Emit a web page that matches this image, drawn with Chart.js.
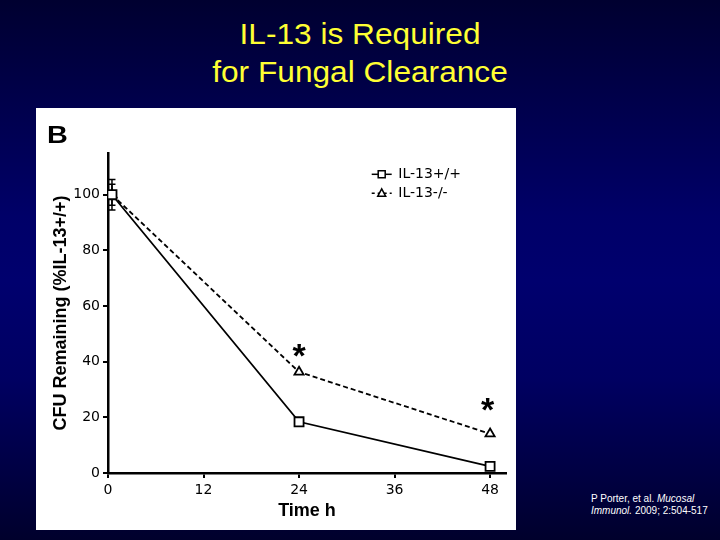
<!DOCTYPE html>
<html>
<head>
<meta charset="utf-8">
<script src="https://cdn.jsdelivr.net/npm/chart.js@4.4.1/dist/chart.umd.min.js"></script>
<style>
  html, body { margin: 0; padding: 0; }
  body {
    width: 720px; height: 540px; overflow: hidden; position: relative;
    background: linear-gradient(180deg, #000030 0%, #00004a 18%, #000068 40%, #00006e 52%, #000062 70%, #000042 88%, #00002c 100%);
    font-family: "Liberation Sans", Arial, sans-serif;
  }
  #title {
    position: absolute; left: 0; width: 720px; top: 14.6px;
    text-align: center; color: #ffff33; font-size: 30px; line-height: 38px;
    transform: scaleX(1.055); transform-origin: 360px 0;
  }
  #panel {
    position: absolute; left: 36px; top: 108px; width: 480px; height: 422px; background: #fff;
  }
  #panelLabel {
    position: absolute; left: 11px; top: 14.7px; font-weight: bold; font-size: 24px; line-height: 24px;
    color: #000; transform: scaleX(1.2); transform-origin: 0 0;
  }
  #cite {
    position: absolute; left: 591px; top: 493px; color: #fff; font-size: 10px; line-height: 12px;
  }
  canvas { position: absolute; left: 0; top: 0; }
</style>
</head>
<body>
<div id="title">IL-13 is Required<br>for Fungal Clearance</div>
<div id="panel">
  <canvas id="c" width="480" height="422"></canvas>
  <div id="panelLabel">B</div>
</div>
<div id="cite">P Porter, et al. <i>Mucosal</i><br><i>Immunol.</i> 2009; 2:504-517</div>
<script>
// ---- data ----
const times = [0.5, 24, 48];
const wtLabel = "IL-13+/+";
const koLabel = "IL-13-/-";
const wtValues = [100, 18.4, 2.4];
const koValues = [100, 36.3, 14.1];
const wtErr = [5.5, 0, 0];
const koErr = [3.8, 0, 0];
const sigTimes = [24, 47.7];
const sigValues = [44.1, 24.5];
const xTicks = [0, 12, 24, 36, 48];
const yTicks = [0, 20, 40, 60, 80, 100];
const xTitle = "Time h";
const yTitle = "CFU Remaining (%IL-13+/+)";

const wtData = times.map((t, i) => ({ x: t, y: wtValues[i] }));
const koData = times.map((t, i) => ({ x: t, y: koValues[i] }));

const errorBars = {
  id: 'errorBars',
  beforeDatasetsDraw(chart) {
    const ctx = chart.ctx, xs = chart.scales.x, ys = chart.scales.y;
    ctx.save();
    ctx.strokeStyle = '#000';
    ctx.lineWidth = 1.5;
    [[wtValues, wtErr], [koValues, koErr]].forEach(([vals, errs]) => {
      vals.forEach((v, i) => {
        if (!errs[i]) return;
        const px = xs.getPixelForValue(times[i]);
        const top = ys.getPixelForValue(v + errs[i]);
        const bot = ys.getPixelForValue(v - errs[i]);
        ctx.beginPath();
        ctx.moveTo(px, top); ctx.lineTo(px, bot);
        ctx.moveTo(px - 3.5, top); ctx.lineTo(px + 3.5, top);
        ctx.moveTo(px - 3.5, bot); ctx.lineTo(px + 3.5, bot);
        ctx.stroke();
      });
    });
    ctx.restore();
  }
};

const extras = {
  id: 'extras',
  afterDraw(chart) {
    const ctx = chart.ctx, xs = chart.scales.x, ys = chart.scales.y;
    ctx.save();
    // significance asterisks
    ctx.fillStyle = '#000';
    ctx.font = 'bold 34px "Liberation Sans", Arial, sans-serif';
    ctx.textAlign = 'center';
    ctx.textBaseline = 'alphabetic';
    sigTimes.forEach((t, i) => {
      const m = ctx.measureText('*');
      const cx = xs.getPixelForValue(t);
      const cy = ys.getPixelForValue(sigValues[i]);
      ctx.fillText('*', cx, cy + (m.actualBoundingBoxAscent - m.actualBoundingBoxDescent) / 2);
    });
    // legend
    const rows = [
      { label: wtLabel, dash: [], marker: 'rect', y: 66.3 },
      { label: koLabel, dash: [3, 3], marker: 'triangle', y: 85.3 }
    ];
    const x0 = 335.7, x1 = 355.7, xm = (x0 + x1) / 2;
    rows.forEach(r => {
      ctx.strokeStyle = '#000';
      ctx.lineWidth = 1.5;
      ctx.setLineDash(r.dash);
      ctx.beginPath(); ctx.moveTo(x0, r.y); ctx.lineTo(x1, r.y); ctx.stroke();
      ctx.setLineDash([]);
      ctx.fillStyle = '#fff';
      ctx.beginPath();
      if (r.marker === 'rect') {
        ctx.rect(xm - 3.5, r.y - 3.5, 7, 7);
      } else {
        ctx.moveTo(xm, r.y - 4.5);
        ctx.lineTo(xm + 4, r.y + 3);
        ctx.lineTo(xm - 4, r.y + 3);
        ctx.closePath();
      }
      ctx.fill(); ctx.stroke();
      ctx.fillStyle = '#000';
      ctx.font = '14px "DejaVu Sans", sans-serif';
      ctx.textAlign = 'left';
      ctx.textBaseline = 'middle';
      ctx.fillText(r.label, 362.3, r.y + 0.5);
    });
    ctx.restore();
  }
};

new Chart(document.getElementById('c'), {
  type: 'line',
  data: {
    datasets: [
      {
        label: wtLabel, data: wtData,
        borderColor: '#000', borderWidth: 1.8, backgroundColor: '#fff',
        pointStyle: 'rect', pointRadius: 6.4, pointBorderWidth: 1.8,
        pointBackgroundColor: '#fff', pointBorderColor: '#000', tension: 0
      },
      {
        label: koLabel, data: koData,
        borderColor: '#000', borderWidth: 1.8, borderDash: [5, 3], backgroundColor: '#fff',
        pointStyle: 'triangle', pointRadius: 5.3, pointBorderWidth: 1.8,
        pointBackgroundColor: '#fff', pointBorderColor: '#000', tension: 0
      }
    ]
  },
  options: {
    responsive: false,
    animation: false,
    events: [],
    layout: { padding: { top: 45, right: 10, left: 0, bottom: 0 } },
    plugins: { legend: { display: false }, tooltip: { enabled: false } },
    scales: {
      x: {
        type: 'linear', min: 0, max: 50,
        afterBuildTicks: s => { s.ticks = xTicks.map(v => ({ value: v })); },
        afterFit: s => { s.height = 57; },
        grid: { drawOnChartArea: false, drawTicks: true, tickLength: 5, color: '#000', lineWidth: 2 },
        border: { display: true, color: '#000', width: 2.5 },
        ticks: { color: '#000', font: { family: '"DejaVu Sans", sans-serif', size: 14 }, padding: 4, maxRotation: 0 },
        title: { display: true, text: xTitle, color: '#000',
          font: { family: '"Liberation Sans", Arial, sans-serif', size: 18, weight: 'bold' },
          padding: { top: 0, bottom: 8 } }
      },
      y: {
        type: 'linear', min: 0, max: 115,
        afterBuildTicks: s => { s.ticks = yTicks.map(v => ({ value: v })); },
        afterFit: s => { s.width = 72; },
        grid: { drawOnChartArea: false, drawTicks: true, tickLength: 5, color: '#000', lineWidth: 2 },
        border: { display: true, color: '#000', width: 2.5 },
        ticks: { color: '#000', font: { family: '"DejaVu Sans", sans-serif', size: 14 }, padding: 3 },
        title: { display: true, text: yTitle, color: '#000',
          font: { family: '"Liberation Sans", Arial, sans-serif', size: 18, weight: 'bold' },
          padding: { top: 14, bottom: 0 } }
      }
    }
  },
  plugins: [errorBars, extras]
});
</script>
</body>
</html>
